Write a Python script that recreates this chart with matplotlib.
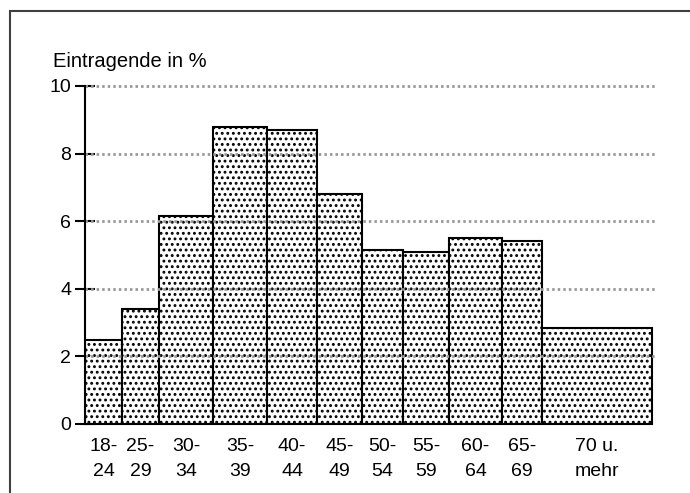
import matplotlib.pyplot as plt
import matplotlib.patches as mpatches
import numpy as np

plt.rcParams['font.family'] = ['Liberation Sans', 'DejaVu Sans']
plt.rcParams['hatch.linewidth'] = 1.3

# age groups, share of entries (%) and relative bar widths as drawn
groups = ["18-\n24", "25-\n29", "30-\n34", "35-\n39", "40-\n44", "45-\n49",
          "50-\n54", "55-\n59", "60-\n64", "65-\n69", "70 u.\nmehr"]
shares = [2.5, 3.4, 6.15, 8.8, 8.7, 6.8, 5.15, 5.1, 5.5, 5.4, 2.85]
bar_widths = [37, 37, 54, 54, 50, 45, 41, 46, 53, 40, 110]
yticks = [0, 2, 4, 6, 8, 10]

lefts = np.concatenate([[0], np.cumsum(bar_widths)[:-1]])
total = sum(bar_widths)

fig = plt.figure(figsize=(6.9, 4.93), dpi=100)
ax = fig.add_axes([85/690, 69/493, 570/690, 338/493])

ax.bar(lefts, shares, width=bar_widths, align='edge', color='white',
       edgecolor='black', linewidth=1.5, hatch='...', zorder=2)

# dotted gridlines drawn over the bars
for y in yticks[1:]:
    ax.plot([0, total + 3], [y, y], color='#999999', lw=2,
            linestyle=(0, (0.9, 1.1)), zorder=3, clip_on=False)

ax.set_xlim(0, total + 3)
ax.set_ylim(0, 10)
ax.set_yticks(yticks)
ax.set_xticks(lefts + np.array(bar_widths) / 2)
ax.set_xticklabels(groups, linespacing=1.65)

for s in ['top', 'right']:
    ax.spines[s].set_visible(False)
ax.spines['left'].set_linewidth(1.5)
ax.spines['bottom'].set_linewidth(1.5)
ax.spines['bottom'].set_bounds(0, total)
ax.spines['left'].set_zorder(4)
ax.spines['bottom'].set_zorder(4)

ax.tick_params(axis='y', direction='inout', length=14, width=1.5,
               labelsize=14, pad=3)
ax.tick_params(axis='x', length=0, labelsize=14, pad=10)

fig.text(53/690, 1 - 67/493, "Eintragende in %", fontsize=14.5,
         ha='left', va='baseline')

frame = mpatches.Rectangle((10/690, -0.1), 2, 1 - 11/493 + 0.1,
                           transform=fig.transFigure, fill=False,
                           edgecolor='#404040', linewidth=1.5)
fig.patches.append(frame)

fig.savefig('out.png', dpi=100)
